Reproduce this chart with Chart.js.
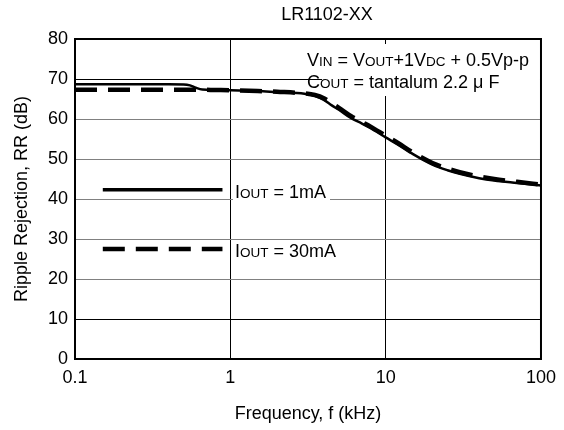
<!DOCTYPE html>
<html>
<head>
<meta charset="utf-8">
<script src="https://cdn.jsdelivr.net/npm/chart.js@4.4.1/dist/chart.umd.min.js"></script>
<style>
  html, body { margin: 0; padding: 0; background: #fff; }
  #wrap { width: 564px; height: 430px; }
</style>
</head>
<body>
<div id="wrap"><canvas id="rrChart" width="564" height="430"></canvas></div>
<script>
// frequency (kHz) and ripple rejection (dB)
const freq   = [0.1, 0.2, 0.3, 0.4, 0.5, 0.55, 0.6, 0.66, 0.8, 1, 1.5, 2, 3, 3.5, 4, 4.5, 5, 6, 7, 8, 10, 12, 15, 20, 25, 30, 40, 50, 70, 100];
const rr1mA  = [68.7, 68.7, 68.7, 68.7, 68.65, 68.4, 67.8, 67.35, 67.25, 67.2, 67.0, 66.7, 66.3, 65.8, 64.8, 63.4, 62.3, 60.2, 58.9, 57.7, 55.4, 53.6, 51.2, 48.6, 47.2, 46.3, 45.2, 44.6, 44.0, 43.4];
const rr30mA = [67.3, 67.3, 67.3, 67.3, 67.3, 67.3, 67.3, 67.3, 67.25, 67.2, 67.0, 66.8, 66.4, 66.0, 65.2, 63.9, 62.8, 60.7, 59.3, 58.1, 55.8, 54.0, 51.6, 49.0, 47.6, 46.7, 45.6, 45.0, 44.3, 43.6];

const xTicks = [0.1, 1, 10, 100];
const yTicks = [0, 10, 20, 30, 40, 50, 60, 70, 80];

// legend sample lines, in data units
const legendFreq = [0.151, 0.89];
const legend1mA = 42.3;
const legend30mA = 27.5;

const FONT = '"Liberation Sans", Arial, sans-serif';

function pts(xs, ys) {
  return xs.map((x, i) => ({ x: x, y: ys[i] }));
}

// draws text where some parts are in the smaller "subscript caps" size
function drawParts(ctx, x, y, parts) {
  parts.forEach(p => {
    ctx.font = (p[1] ? '13.5px ' : '18px ') + FONT;
    ctx.fillText(p[0], x, y);
    x += ctx.measureText(p[0]).width;
  });
}

const decor = {
  id: 'decor',
  beforeDatasetsDraw(chart) {
    const ctx = chart.ctx;
    const a = chart.chartArea;
    ctx.save();
    ctx.fillStyle = '#fff';
    // white box behind the condition note
    ctx.fillRect(322, 44, a.right - 1 - 322, 52);
    // white box behind first legend label
    ctx.fillRect(233, 182, 97, 19);
    ctx.restore();
  },
  afterDatasetsDraw(chart) {
    const ctx = chart.ctx;
    const a = chart.chartArea;
    const xs = chart.scales.x;
    const ys = chart.scales.y;
    ctx.save();
    ctx.strokeStyle = '#000';
    ctx.lineWidth = 2;
    ctx.strokeRect(a.left, a.top, a.right - a.left, a.bottom - a.top);

    ctx.fillStyle = '#000';
    ctx.textBaseline = 'alphabetic';
    ctx.textAlign = 'left';

    drawParts(ctx, 307, 66, [['V'], ['IN', 1], [' = V'], ['OUT', 1], ['+1V'], ['DC', 1], [' + 0.5Vp-p']]);
    drawParts(ctx, 307, 88, [['C'], ['OUT', 1], [' = tantalum 2.2 \u03BC F']]);

    const lx = xs.getPixelForValue(1.07);
    drawParts(ctx, lx, ys.getPixelForValue(40.25), [['I'], ['OUT', 1], [' = 1mA']]);
    drawParts(ctx, lx, ys.getPixelForValue(25.5), [['I'], ['OUT', 1], [' = 30mA']]);

    ctx.font = '18px ' + FONT;
    ctx.textAlign = 'center';
    ctx.textBaseline = 'middle';
    ctx.fillText('LR1102-XX', 327, 15);
    ctx.fillText('Frequency, f (kHz)', (a.left + a.right) / 2, 414);

    ctx.translate(22, (a.top + a.bottom) / 2);
    ctx.rotate(-Math.PI / 2);
    ctx.fillText('Ripple Rejection, RR (dB)', 0, 0);
    ctx.restore();
  }
};

const rrChartCtx = document.getElementById('rrChart').getContext('2d');
new Chart(rrChartCtx, {
  type: 'line',
  data: {
    datasets: [{
      label: 'IOUT = 30mA',
      data: pts(freq, rr30mA),
      borderColor: '#000',
      borderWidth: 4.5,
      borderDash: [22, 11],
      pointRadius: 0,
      cubicInterpolationMode: 'monotone'
    }, {
      label: 'IOUT = 1mA',
      data: pts(freq, rr1mA),
      borderColor: '#000',
      borderWidth: 2.5,
      pointRadius: 0,
      cubicInterpolationMode: 'monotone'
    }, {
      label: 'legend 30mA',
      data: pts(legendFreq, [legend30mA, legend30mA]),
      borderColor: '#000',
      borderWidth: 4.5,
      borderDash: [22, 11],
      pointRadius: 0
    }, {
      label: 'legend 1mA',
      data: pts(legendFreq, [legend1mA, legend1mA]),
      borderColor: '#000',
      borderWidth: 3.5,
      pointRadius: 0
    }]
  },
  options: {
    responsive: false,
    animation: false,
    events: [],
    layout: {
      padding: { left: 0, right: 22, top: 39, bottom: 0 }
    },
    plugins: {
      legend: { display: false },
      title: { display: false },
      tooltip: { enabled: false }
    },
    scales: {
      x: {
        type: 'logarithmic',
        min: 0.1,
        max: 100,
        afterBuildTicks: s => { s.ticks = xTicks.map(v => ({ value: v })); },
        afterFit: s => { s.height = 71; },
        ticks: {
          color: '#000',
          font: { family: FONT, size: 18 },
          padding: 8,
          maxRotation: 0,
          autoSkip: false,
          callback: v => String(v)
        },
        grid: {
          color: '#000',
          lineWidth: 1,
          drawTicks: false
        },
        border: { color: '#000', width: 2 }
      },
      y: {
        min: 0,
        max: 80,
        afterBuildTicks: s => { s.ticks = yTicks.map(v => ({ value: v })); },
        afterFit: s => { s.width = 75; },
        ticks: {
          color: '#000',
          font: { family: FONT, size: 18 },
          padding: 7
        },
        grid: {
          color: c => (c.tick && (c.tick.value === 10 || c.tick.value === 70)) ? '#000' : '#808080',
          lineWidth: 1,
          drawTicks: false
        },
        border: { color: '#000', width: 2 }
      }
    }
  },
  plugins: [decor]
});
</script>
</body>
</html>
